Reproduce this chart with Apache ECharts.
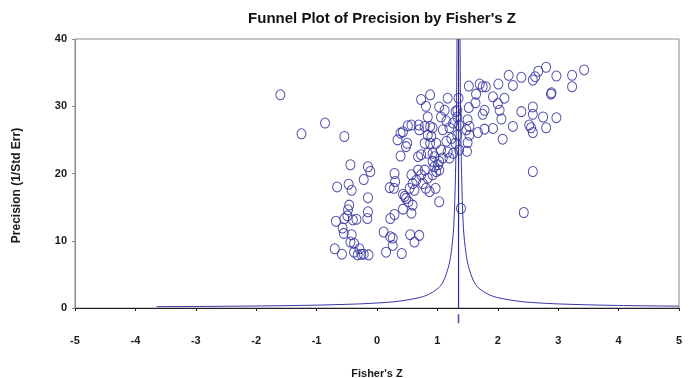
<!DOCTYPE html>
<html>
<head>
<meta charset="utf-8">
<script src="https://cdn.jsdelivr.net/npm/echarts@6/dist/echarts.min.js"></script>
<style>html,body{margin:0;padding:0;background:#fff}#chart{width:700px;height:378px}</style>
</head>
<body>
<div id="chart"></div>
<script>
const titleText = "Funnel Plot of Precision by Fisher's Z";
const xName = "Fisher's Z";
const yName = "Precision (1/Std Err)";
const xTicks = [-5, -4, -3, -2, -1, 0, 1, 2, 3, 4, 5];
const yTicks = [0, 10, 20, 30, 40];
const meanZ = 1.35;
const summaryMarkY = -1.6;

const studyPoints = [
  [-1.60,31.7],[-1.25,25.9],[-0.86,27.5],[-0.54,25.5],
  [0.39,26.0],[0.34,25.0],[0.51,27.1],[0.57,27.2],[0.69,27.2],[0.50,24.5],[0.48,24.0],[0.73,31.0],[0.88,31.7],[0.81,30.0],[0.84,28.4],[0.79,27.0],[0.88,27.0],[0.39,22.6],[0.84,25.7],[0.79,24.5],[0.88,24.5],[0.73,22.8],[0.84,23.0],
  [1.17,31.2],[1.03,29.9],[1.12,29.4],[1.06,28.4],[1.15,27.8],[1.26,27.5],[1.20,26.8],[1.09,26.5],[0.92,26.8],[0.90,25.5],[0.98,24.5],[1.15,24.8],[1.23,25.2],[1.06,23.5],[0.92,23.0],[1.17,23.2],[1.26,23.0],[0.95,22.5],[1.09,22.3],[1.20,22.3],[0.43,26.2],[0.70,26.5],
  [1.35,31.2],[1.33,29.4],[1.30,29.2],[1.33,28.4],[1.36,27.2],[1.33,25.7],[1.30,24.5],[1.36,23.5],
  [1.52,33.0],[1.70,33.3],[1.75,32.9],[1.80,32.9],[2.01,33.3],[2.18,34.6],[2.25,33.1],[2.39,34.3],[2.58,33.9],[2.62,34.4],[2.67,35.2],[2.80,35.8],[2.97,34.5],[3.23,34.6],[3.43,35.4],[3.23,32.9],[2.88,31.8],[2.89,32.0],[1.64,31.8],[1.92,31.4],[2.11,31.2],[2.00,30.4],[2.03,29.4],[1.78,29.4],[1.75,28.8],[2.06,28.1],[2.39,29.2],[2.58,29.9],[2.58,28.8],[2.75,28.4],[2.97,28.3],[2.25,27.0],[2.52,27.2],[2.55,26.8],[2.58,26.1],[2.80,26.8],[2.08,25.1],[1.92,26.7],[1.78,26.6],[1.67,26.1],[1.53,27.0],[1.50,28.0],[1.52,29.8],[1.63,30.5],[1.48,26.5],[1.53,25.7],[1.50,24.6],[1.49,23.3],
  [2.58,20.3],[2.43,14.2],[1.39,14.8],[1.03,15.8],[0.97,17.8],
  [0.92,19.8],[0.98,20.3],[1.03,20.5],[0.95,21.0],[1.03,21.8],[0.92,21.8],[1.01,21.3],
  [0.57,19.8],[0.68,20.5],[0.73,19.8],[0.79,20.5],[0.84,19.3],[0.65,19.0],[0.54,17.8],[0.62,17.5],[0.81,17.8],[0.87,17.3],[0.76,18.5],[0.59,18.5],[0.68,22.5],
  [0.28,17.8],[0.21,17.9],[0.30,18.8],[0.29,20.0],[0.22,13.3],[0.29,13.9],[0.43,14.7],[0.57,14.1],[0.59,15.3],[0.46,16.6],[0.43,16.9],[0.48,16.3],[0.52,15.8],[0.11,11.3],[0.22,10.6],[0.26,10.4],[0.26,9.3],[0.15,8.3],[0.41,8.1],[0.55,10.9],[0.70,10.8],[0.62,9.8],
  [-0.44,21.3],[-0.15,21.0],[-0.11,20.3],[-0.22,19.1],[-0.66,18.0],[-0.47,18.4],[-0.42,17.5],[-0.15,16.4],[-0.46,15.3],[-0.48,14.6],[-0.49,13.7],[-0.40,13.1],[-0.54,13.3],[-0.68,12.9],[-0.34,13.2],[-0.15,14.3],[-0.16,13.3],[-0.57,11.9],[-0.55,11.1],[-0.42,10.9],[-0.44,9.8],[-0.38,9.6],[-0.70,8.8],[-0.58,8.0],[-0.38,8.3],[-0.29,8.8],[-0.26,8.0],[-0.22,8.0],[-0.14,7.9],[-0.32,7.9]
];

const funnelLeft = [
  [-3.65,0.2],[-2.35,0.27],[-1.15,0.4],[-0.32,0.6],[0.10,0.8],[0.35,1.0],[0.68,1.5],[0.85,2],[1.02,3],[1.10,4],[1.18,6],[1.225,8],[1.27,12],[1.30,20],[1.317,30],[1.325,40]
];
const funnelRight = [
  [5.0,0.27],[3.85,0.4],[3.02,0.6],[2.60,0.8],[2.35,1.0],[2.02,1.5],[1.85,2],[1.68,3],[1.60,4],[1.52,6],[1.475,8],[1.43,12],[1.40,20],[1.383,30],[1.375,40]
];

const chart = echarts.init(document.getElementById('chart'), null, {renderer: 'canvas'});
const lineColor = '#3535a8';
const pointColor = '#2e2e9e';
const boldText = {fontFamily: 'Liberation Sans, Arial, sans-serif', fontWeight: 'bold', fontSize: 11, color: '#1a1a1a'};

chart.setOption({
  animation: false,
  backgroundColor: '#fff',
  title: {
    text: titleText, left: 377, top: 6, textAlign: 'center',
    textStyle: {fontFamily: 'Liberation Sans, Arial, sans-serif', fontWeight: 'bold', fontSize: 15, color: '#111'}
  },
  grid: {left: 75, right: 21, top: 39, bottom: 70, show: true, borderColor: '#8a8a8a', borderWidth: 1,
         containLabel: false, outerBoundsMode: 'none'},
  xAxis: {
    type: 'value', min: xTicks[0], max: xTicks[xTicks.length - 1], interval: 1,
    name: xName, nameLocation: 'middle', nameGap: 60, nameTextStyle: boldText,
    axisLine: {show: true, onZero: false, lineStyle: {color: '#222', width: 1}},
    axisTick: {show: true, length: 3, lineStyle: {color: '#222'}},
    axisLabel: Object.assign({margin: 27}, boldText),
    splitLine: {show: false}
  },
  yAxis: {
    type: 'value', min: yTicks[0], max: yTicks[yTicks.length - 1], interval: 10,
    name: yName, nameLocation: 'middle', nameGap: 52,
    nameTextStyle: Object.assign({}, boldText, {fontSize: 12, padding: [0, 24, 0, 0]}),
    axisLine: {show: true, onZero: false, lineStyle: {color: '#8a8a8a', width: 1}},
    axisTick: {show: true, length: 3, lineStyle: {color: '#8a8a8a'}},
    axisLabel: Object.assign({margin: 8}, boldText),
    splitLine: {show: false}
  },
  series: [
    {
      type: 'line', data: funnelLeft, showSymbol: false, symbol: 'none', smooth: 0.3,
      lineStyle: {color: lineColor, width: 1}, z: 3, silent: true
    },
    {
      type: 'line', data: funnelRight, showSymbol: false, symbol: 'none', smooth: 0.3,
      lineStyle: {color: lineColor, width: 1}, z: 3, silent: true
    },
    {
      type: 'line', data: [[meanZ, 0], [meanZ, 40]], showSymbol: false, symbol: 'none',
      lineStyle: {color: '#2a2a90', width: 1.2}, z: 4, silent: true
    },
    {
      type: 'scatter', data: studyPoints, symbol: 'circle', symbolSize: [9, 10],
      itemStyle: {color: 'rgba(0,0,0,0)', borderColor: pointColor, borderWidth: 1, opacity: 0.85}, z: 5
    },
    {
      type: 'scatter', data: [[meanZ, summaryMarkY]], symbol: 'rect', symbolSize: [1.6, 9], clip: false,
      itemStyle: {color: '#2a2a90'}, z: 6
    }
  ]
});
</script>
</body>
</html>
